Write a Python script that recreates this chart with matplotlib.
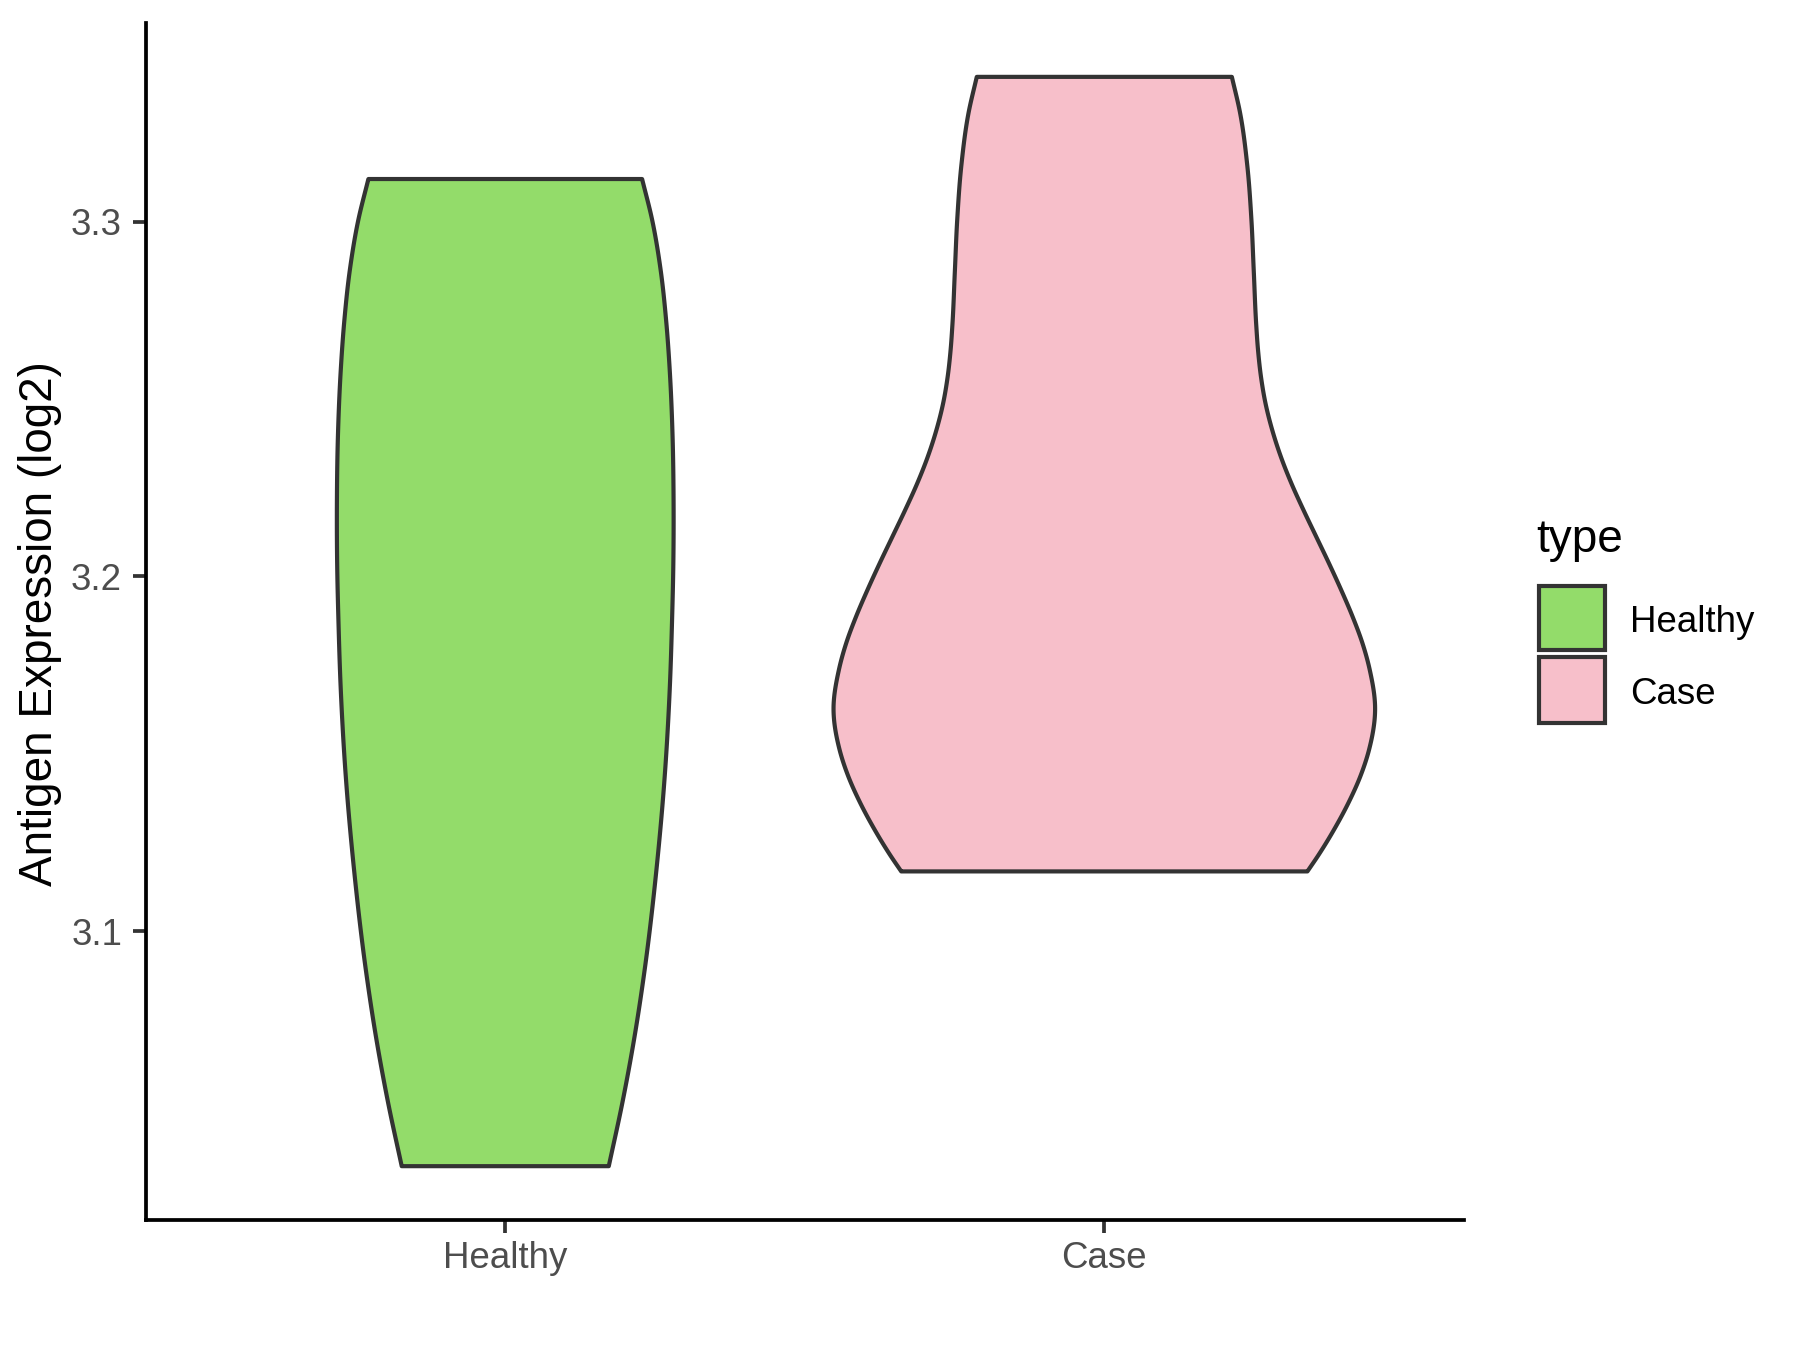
import matplotlib
matplotlib.use("Agg")
import matplotlib.pyplot as plt
from matplotlib.patches import Rectangle, Polygon
import numpy as np

plt.rcParams['font.family'] = ['Liberation Sans', 'DejaVu Sans']

categories = ["Healthy", "Case"]
colors = ["#93DC6A", "#F7BFCA"]

# Violin outlines: y values and relative half-widths (density profile)
healthy_y = [3.3120, 3.3004, 3.2864, 3.2720, 3.2582, 3.2394, 3.2206, 3.2020,
             3.1877, 3.1691, 3.1454, 3.1172, 3.0890, 3.0702, 3.0514, 3.0337]
healthy_w = [0.813, 0.873, 0.923, 0.956, 0.977, 0.994, 1.000, 0.998,
             0.991, 0.978, 0.950, 0.898, 0.828, 0.768, 0.695, 0.615]
healthy_max = 0.281

case_y = [3.3408, 3.3308, 3.3158, 3.3008, 3.2859, 3.2709, 3.2635, 3.2560,
          3.2485, 3.2410, 3.2335, 3.2260, 3.2186, 3.2111, 3.2036, 3.1961,
          3.1886, 3.1812, 3.1737, 3.1625, 3.1512, 3.1437, 3.1362, 3.1288,
          3.1213, 3.1168]
case_w = [0.471, 0.501, 0.528, 0.543, 0.552, 0.561, 0.568, 0.579,
          0.596, 0.621, 0.653, 0.692, 0.736, 0.783, 0.830, 0.875,
          0.917, 0.953, 0.980, 1.000, 0.978, 0.946, 0.902, 0.850,
          0.790, 0.750]
case_max = 0.452

yticks = [3.1, 3.2, 3.3]
ytick_labels = ["3.1", "3.2", "3.3"]


def smooth_outline(ys, ws, n=30):
    """Cubic Hermite rendering of width(y) through the read points."""
    y = np.asarray(ys, float)[::-1]
    w = np.asarray(ws, float)[::-1]
    h = np.diff(y)
    d = np.diff(w) / h
    m = np.empty_like(y)
    m[0], m[-1] = d[0], d[-1]
    for k in range(1, len(y) - 1):
        m[k] = (h[k] * d[k - 1] + h[k - 1] * d[k]) / (h[k - 1] + h[k])
    oy, ow = [], []
    for k in range(len(y) - 1):
        t = np.linspace(0, 1, n, endpoint=False)
        h00 = 2 * t ** 3 - 3 * t ** 2 + 1
        h10 = t ** 3 - 2 * t ** 2 + t
        h01 = -2 * t ** 3 + 3 * t ** 2
        h11 = t ** 3 - t ** 2
        oy.append(y[k] + t * h[k])
        ow.append(h00 * w[k] + h10 * h[k] * m[k] + h01 * w[k + 1] + h11 * h[k] * m[k + 1])
    oy.append([y[-1]])
    ow.append([w[-1]])
    return np.concatenate(oy), np.concatenate(ow)


fig = plt.figure(figsize=(6, 4.5), dpi=300)
ax = fig.add_axes([0.081, 0.0961, 0.8132 - 0.081, 0.983 - 0.0961])

profiles = [(healthy_y, healthy_w, healthy_max), (case_y, case_w, case_max)]
for i, ((ys, ws, mx), col) in enumerate(zip(profiles, colors)):
    pos = i + 1
    sy, sw = smooth_outline(ys, ws)
    sw = sw * mx
    right = np.column_stack([pos + sw, sy])
    left = np.column_stack([pos - sw[::-1], sy[::-1]])
    pts = np.vstack([right, left])
    ax.add_patch(Polygon(pts, closed=True, facecolor=col, edgecolor="#333333",
                         linewidth=1.0, joinstyle="round"))

ax.set_xlim(0.4, 2.6)
ax.set_ylim(3.01845, 3.3560)
ax.set_xticks([1, 2])
ax.set_xticklabels(categories)
ax.set_yticks(yticks)
ax.set_yticklabels(ytick_labels)
for s in ["top", "right"]:
    ax.spines[s].set_visible(False)
for s in ["left", "bottom"]:
    ax.spines[s].set_linewidth(0.9)
    ax.spines[s].set_color("black")
ax.tick_params(axis="both", length=3.2, width=0.9, color="#333333",
               labelcolor="#4D4D4D", labelsize=8.8, pad=2.5)
ax.tick_params(axis="x", pad=1.8)

W, H = 1800, 1350
fig.text(40 / W, 1 - 624 / H, "Antigen Expression (log2)", fontsize=11,
         rotation=90, va="center", ha="center", color="black")

# Legend
fig.text(1536 / W, 1 - 540 / H, "type", fontsize=11, va="center", ha="left")
keys = [(585.5, 649.8), (656.7, 723.2)]
for (top, bot), col, lab in zip(keys, colors, categories):
    fig.patches.append(Rectangle((1539 / W, 1 - bot / H), 66 / W, (bot - top) / H,
                                 transform=fig.transFigure, facecolor=col,
                                 edgecolor="#333333", linewidth=1.0))
    fig.text(1630 / W, 1 - ((top + bot) / 2 + 5) / H, lab, fontsize=8.8,
             va="center", ha="left")

fig.savefig("out.png", dpi=300)
